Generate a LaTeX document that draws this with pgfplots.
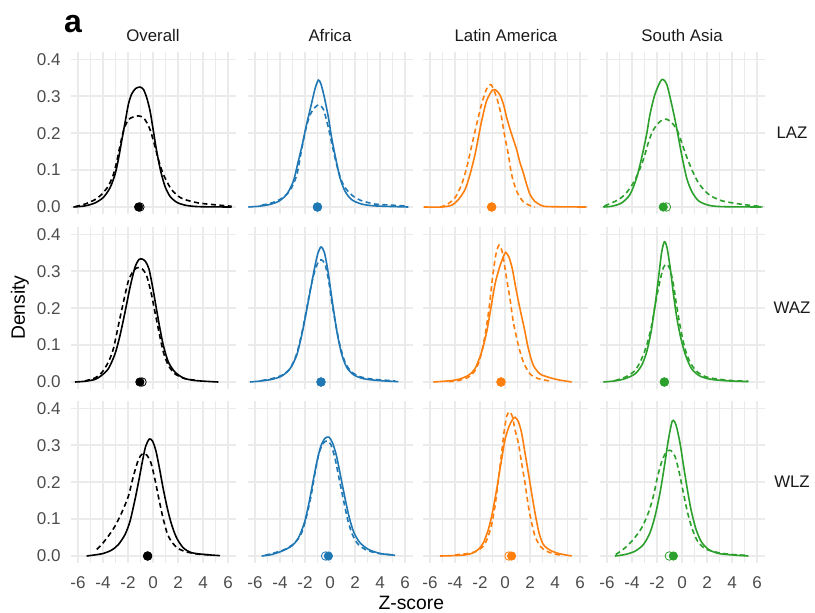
\documentclass[border=0pt]{standalone}
\usepackage{pgfplots}
\pgfplotsset{compat=1.18}
\usepackage{fontspec}
\setmainfont{Liberation Sans}
\definecolor{gridc}{HTML}{EBEBEB}
\definecolor{tickc}{HTML}{4D4D4D}
\definecolor{stripc}{HTML}{1A1A1A}
\definecolor{cOv}{HTML}{000000}
\definecolor{cAf}{HTML}{1F77B4}
\definecolor{cLA}{HTML}{FF7F0E}
\definecolor{cSA}{HTML}{2CA02C}
\pgfplotsset{
  panel/.style={
    scale only axis, width=123.75pt, height=121.8pt,
    xmin=-6.6, xmax=6.6, ymin=-0.02, ymax=0.42,
    xtick={-6,-4,-2,0,2,4,6}, ytick={0,0.1,0.2,0.3,0.4},
    minor xtick={-5,-3,-1,1,3,5},
    grid=both,
    major grid style={gridc, line width=1.2pt},
    minor grid style={gridc, line width=0.6pt},
    axis line style={draw=none},
    major tick length=0pt, minor tick length=0pt,
    xticklabels={}, yticklabels={},
    clip=false,
    anchor=south west,
  },
  ylab/.style={yticklabels={0.0,0.1,0.2,0.3,0.4},
    yticklabel style={font=\fontsize{12.8}{14}\selectfont, text=tickc, inner sep=0pt, anchor=east, xshift=-7.3pt}},
  xlab/.style={xticklabels={-6,-4,-2,0,2,4,6},
    xticklabel style={font=\fontsize{12.8}{14}\selectfont, text=tickc, inner sep=0pt, anchor=north, yshift=-9.8pt}},
  sol/.style={line width=1.2pt, smooth, tension=0.45},
  das/.style={sol, dash pattern=on 3.8pt off 2.6pt},
  opn/.style={only marks, mark=o, mark size=3.2pt, mark options={line width=0.6pt}},
  fil/.style={only marks, mark=*, mark size=3.2pt},
}
\begin{document}
\begin{tikzpicture}
\useasboundingbox (0,0) rectangle (611.25pt,459.75pt);
% ================= Row 1: LAZ =================
\begin{axis}[panel, ylab, at={(52.875pt,298.95pt)}]
\addplot[das, cOv] coordinates {(-6.24,0.001) (-5.44,0.008) (-4.64,0.02) (-4.11,0.034) (-3.57,0.057) (-3.17,0.088) (-2.91,0.122) (-2.69,0.158) (-2.45,0.195) (-2.24,0.219) (-1.92,0.238) (-1.57,0.244) (-1.17,0.247) (-0.77,0.242) (-0.43,0.225) (-0.16,0.202) (0.11,0.17) (0.43,0.129) (0.75,0.095) (1.09,0.07) (1.49,0.047) (2.03,0.029) (2.56,0.02) (3.63,0.011) (4.96,0.006) (6.29,0.002)};
\addplot[sol, cOv] coordinates {(-6.37,0) (-5.44,0.003) (-4.64,0.011) (-3.97,0.026) (-3.44,0.052) (-3.04,0.088) (-2.77,0.129) (-2.51,0.178) (-2.24,0.228) (-1.97,0.278) (-1.71,0.306) (-1.39,0.321) (-1.04,0.325) (-0.77,0.319) (-0.51,0.297) (-0.24,0.261) (0.03,0.206) (0.29,0.152) (0.61,0.098) (0.96,0.056) (1.36,0.029) (1.89,0.013) (2.56,0.005) (3.63,0.001) (6.29,0)};
\addplot[opn, cOv] coordinates {(-1.05,0)};
\addplot[fil, cOv] coordinates {(-1.15,0)};
\end{axis}
\begin{axis}[panel, at={(185.625pt,298.95pt)}]
\addplot[das, cAf] coordinates {(-5.47,0.005) (-4.67,0.011) (-3.87,0.023) (-3.2,0.045) (-2.67,0.085) (-2.3,0.15) (-1.98,0.205) (-1.6,0.25) (-1.2,0.27) (-0.88,0.277) (-0.53,0.265) (-0.13,0.215) (0.19,0.165) (0.53,0.115) (0.93,0.07) (1.33,0.047) (1.87,0.029) (2.53,0.017) (3.6,0.008) (4.93,0.005) (6.0,0.003)};
\addplot[sol, cAf] coordinates {(-6.53,0) (-5.73,0.002) (-4.93,0.006) (-4.13,0.015) (-3.47,0.034) (-2.93,0.07) (-2.53,0.125) (-2.21,0.17) (-1.87,0.224) (-1.52,0.274) (-1.2,0.32) (-0.93,0.344) (-0.72,0.333) (-0.45,0.297) (-0.13,0.243) (0.13,0.188) (0.45,0.133) (0.8,0.079) (1.2,0.043) (1.73,0.02) (2.53,0.008) (3.6,0.003) (6.27,0)};
\addplot[opn, cAf] coordinates {(-1.0,0)};
\addplot[fil, cAf] coordinates {(-1.01,0)};
\end{axis}
\begin{axis}[panel, at={(316.875pt,298.95pt)}]
\addplot[das, cLA] coordinates {(-5.2,0) (-4.67,0.006) (-4.0,0.025) (-3.47,0.061) (-3.07,0.106) (-2.67,0.165) (-2.27,0.224) (-1.87,0.279) (-1.47,0.32) (-1.1,0.331) (-0.67,0.297) (-0.32,0.251) (-0.05,0.197) (0.27,0.142) (0.53,0.088) (0.93,0.043) (1.47,0.014) (2.13,0.002) (2.4,0)};
\addplot[sol, cLA] coordinates {(-6.5,0) (-5.07,0) (-4.27,0.005) (-3.73,0.02) (-3.2,0.047) (-2.8,0.088) (-2.4,0.142) (-2.13,0.188) (-1.87,0.233) (-1.47,0.288) (-1.0,0.317) (-0.67,0.315) (-0.4,0.303) (-0.13,0.279) (0.13,0.243) (0.4,0.211) (0.67,0.183) (0.93,0.156) (1.2,0.12) (1.47,0.092) (1.73,0.061) (2.0,0.034) (2.4,0.015) (2.93,0.004) (3.5,0.001) (6.5,0)};
\addplot[opn, cLA] coordinates {(-1.07,0)};
\addplot[fil, cLA] coordinates {(-1.07,0)};
\end{axis}
\begin{axis}[panel, at={(449.625pt,298.95pt)}]
\addplot[das, cSA] coordinates {(-6.2,0.003) (-5.63,0.011) (-5.09,0.02) (-4.56,0.034) (-4.03,0.058) (-3.63,0.083) (-3.23,0.115) (-2.96,0.143) (-2.69,0.175) (-2.37,0.204) (-2.03,0.222) (-1.63,0.235) (-1.23,0.238) (-0.83,0.229) (-0.43,0.211) (-0.16,0.188) (0.11,0.161) (0.51,0.124) (0.91,0.092) (1.31,0.066) (1.84,0.043) (2.37,0.029) (3.17,0.017) (4.24,0.01) (5.31,0.005) (6.45,0.001)};
\addplot[sol, cSA] coordinates {(-6.3,0) (-5.63,0.002) (-4.83,0.011) (-4.16,0.034) (-3.63,0.079) (-3.23,0.133) (-2.83,0.197) (-2.56,0.251) (-2.16,0.306) (-1.63,0.345) (-1.23,0.333) (-0.83,0.279) (-0.43,0.215) (-0.03,0.142) (0.37,0.079) (0.77,0.043) (1.31,0.017) (2.11,0.005) (3.17,0.001) (6.37,0)};
\addplot[opn, cSA] coordinates {(-1.25,0)};
\addplot[fil, cSA] coordinates {(-1.5,0)};
\end{axis}
% ================= Row 2: WAZ =================
\begin{axis}[panel, ylab, at={(52.875pt,167.7pt)}]
\addplot[das, cOv] coordinates {(-5.44,0.003) (-4.64,0.011) (-4.11,0.025) (-3.57,0.054) (-3.17,0.09) (-2.77,0.153) (-2.37,0.216) (-1.97,0.274) (-1.57,0.301) (-1.23,0.31) (-0.85,0.306) (-0.51,0.288) (-0.16,0.243) (0.16,0.189) (0.48,0.135) (0.83,0.081) (1.23,0.045) (1.76,0.022) (2.56,0.009) (3.63,0.004)};
\addplot[sol, cOv] coordinates {(-6.24,0) (-5.44,0.002) (-4.64,0.007) (-4.11,0.018) (-3.57,0.036) (-3.04,0.076) (-2.64,0.126) (-2.24,0.189) (-1.84,0.256) (-1.44,0.311) (-1.12,0.332) (-0.85,0.333) (-0.59,0.326) (-0.32,0.306) (-0.05,0.261) (0.21,0.211) (0.51,0.153) (0.83,0.099) (1.23,0.054) (1.76,0.027) (2.43,0.011) (3.36,0.004) (5.23,0)};
\addplot[opn, cOv] coordinates {(-0.88,0)};
\addplot[fil, cOv] coordinates {(-1.05,0)};
\end{axis}
\begin{axis}[panel, at={(185.625pt,167.7pt)}]
\addplot[das, cAf] coordinates {(-5.47,0.004) (-4.67,0.009) (-3.87,0.018) (-3.2,0.036) (-2.67,0.076) (-2.27,0.13) (-1.95,0.184) (-1.6,0.247) (-1.25,0.297) (-0.93,0.326) (-0.67,0.331) (-0.4,0.319) (-0.13,0.279) (0.13,0.22) (0.45,0.157) (0.8,0.099) (1.2,0.054) (1.73,0.027) (2.53,0.013) (3.6,0.007) (5.2,0.003)};
\addplot[sol, cAf] coordinates {(-6.4,0) (-5.47,0.003) (-4.67,0.007) (-3.87,0.016) (-3.2,0.036) (-2.67,0.072) (-2.27,0.126) (-1.95,0.18) (-1.6,0.243) (-1.25,0.306) (-0.99,0.346) (-0.72,0.366) (-0.45,0.351) (-0.19,0.306) (0.08,0.243) (0.35,0.18) (0.61,0.126) (0.93,0.076) (1.33,0.04) (1.87,0.02) (2.67,0.009) (3.87,0.004) (5.47,0.001)};
\addplot[opn, cAf] coordinates {(-0.72,0)};
\addplot[fil, cAf] coordinates {(-0.72,0)};
\end{axis}
\begin{axis}[panel, at={(316.875pt,167.7pt)}]
\addplot[das, cLA] coordinates {(-4.5,0.001) (-3.73,0.004) (-2.93,0.013) (-2.4,0.031) (-2.0,0.063) (-1.6,0.126) (-1.28,0.198) (-1.01,0.279) (-0.75,0.342) (-0.48,0.371) (-0.21,0.351) (0.05,0.297) (0.4,0.225) (0.67,0.162) (1.07,0.099) (1.47,0.054) (2.0,0.022) (2.67,0.009) (3.73,0.002)};
\addplot[sol, cLA] coordinates {(-5.73,0) (-4.53,0.003) (-3.73,0.007) (-2.93,0.018) (-2.4,0.036) (-1.87,0.081) (-1.47,0.135) (-1.12,0.202) (-0.8,0.265) (-0.48,0.306) (-0.21,0.333) (0.05,0.351) (0.32,0.338) (0.59,0.306) (0.88,0.252) (1.2,0.198) (1.55,0.144) (1.87,0.09) (2.27,0.045) (2.8,0.022) (3.47,0.013) (4.27,0.006) (5.33,0)};
\addplot[opn, cLA] coordinates {(-0.32,0)};
\addplot[fil, cLA] coordinates {(-0.32,0)};
\end{axis}
\begin{axis}[panel, at={(449.625pt,167.7pt)}]
\addplot[das, cSA] coordinates {(-5.36,0.004) (-4.56,0.013) (-3.76,0.031) (-3.23,0.063) (-2.83,0.099) (-2.43,0.153) (-2.11,0.216) (-1.76,0.274) (-1.49,0.31) (-1.23,0.319) (-0.96,0.306) (-0.69,0.265) (-0.43,0.207) (-0.11,0.144) (0.24,0.09) (0.64,0.054) (1.17,0.029) (1.84,0.015) (2.64,0.009) (3.97,0.004) (5.31,0.002)};
\addplot[sol, cSA] coordinates {(-6.29,0) (-5.36,0.003) (-4.56,0.009) (-3.76,0.022) (-3.23,0.045) (-2.83,0.081) (-2.48,0.135) (-2.16,0.207) (-1.89,0.279) (-1.63,0.351) (-1.41,0.38) (-1.2,0.364) (-0.93,0.306) (-0.67,0.234) (-0.4,0.171) (-0.08,0.117) (0.29,0.072) (0.77,0.036) (1.44,0.016) (2.37,0.007) (3.71,0.003) (5.31,0.001)};
\addplot[opn, cSA] coordinates {(-1.41,0)};
\addplot[fil, cSA] coordinates {(-1.41,0)};
\end{axis}
% ================= Row 3: WLZ =================
\begin{axis}[panel, ylab, xlab, at={(52.875pt,37.2pt)}]
\addplot[das, cOv] coordinates {(-4.5,0.018) (-4.11,0.031) (-3.57,0.054) (-3.04,0.081) (-2.51,0.117) (-1.97,0.162) (-1.57,0.216) (-1.17,0.261) (-0.85,0.277) (-0.51,0.274) (-0.16,0.252) (0.16,0.207) (0.48,0.153) (0.83,0.099) (1.17,0.058) (1.55,0.036) (2.03,0.02) (2.69,0.011) (3.63,0.005) (4.69,0.003)};
\addplot[sol, cOv] coordinates {(-5.31,0) (-4.64,0.003) (-3.97,0.007) (-3.31,0.016) (-2.77,0.031) (-2.24,0.058) (-1.84,0.094) (-1.44,0.153) (-1.12,0.207) (-0.85,0.256) (-0.59,0.297) (-0.29,0.317) (-0.03,0.311) (0.24,0.284) (0.51,0.239) (0.83,0.18) (1.17,0.126) (1.49,0.085) (1.89,0.049) (2.43,0.022) (3.09,0.009) (4.16,0.004) (5.36,0.001)};
\addplot[opn, cOv] coordinates {(-0.43,0)};
\addplot[fil, cOv] coordinates {(-0.43,0)};
\end{axis}
\begin{axis}[panel, xlab, at={(185.625pt,37.2pt)}]
\addplot[das, cAf] coordinates {(-5.2,0.002) (-4.4,0.009) (-3.6,0.018) (-2.8,0.036) (-2.27,0.063) (-1.87,0.108) (-1.52,0.162) (-1.2,0.225) (-0.88,0.279) (-0.53,0.306) (-0.21,0.312) (0.08,0.301) (0.4,0.265) (0.72,0.211) (1.07,0.153) (1.41,0.099) (1.79,0.058) (2.27,0.031) (2.93,0.016) (3.87,0.007) (5.07,0.003)};
\addplot[sol, cAf] coordinates {(-5.47,0) (-4.67,0.004) (-3.87,0.013) (-3.07,0.027) (-2.53,0.049) (-2.05,0.09) (-1.68,0.144) (-1.33,0.207) (-1.01,0.261) (-0.72,0.299) (-0.4,0.319) (-0.08,0.322) (0.21,0.306) (0.53,0.27) (0.85,0.216) (1.2,0.157) (1.55,0.103) (1.92,0.063) (2.4,0.036) (3.07,0.018) (4.0,0.007) (5.2,0.002)};
\addplot[opn, cAf] coordinates {(-0.35,0)};
\addplot[fil, cAf] coordinates {(-0.13,0)};
\end{axis}
\begin{axis}[panel, xlab, at={(316.875pt,37.2pt)}]
\addplot[das, cLA] coordinates {(-4.0,0.003) (-2.93,0.007) (-2.27,0.013) (-1.73,0.027) (-1.39,0.049) (-1.07,0.085) (-0.8,0.135) (-0.59,0.189) (-0.4,0.243) (-0.21,0.297) (-0.05,0.342) (0.13,0.378) (0.35,0.391) (0.59,0.378) (0.8,0.342) (1.07,0.306) (1.33,0.252) (1.6,0.198) (1.87,0.135) (2.13,0.09) (2.4,0.054) (2.8,0.027) (3.33,0.013) (4.0,0.005) (4.6,0.002)};
\addplot[sol, cLA] coordinates {(-5.2,0) (-3.47,0.002) (-2.67,0.007) (-2.13,0.018) (-1.73,0.036) (-1.33,0.072) (-1.01,0.117) (-0.67,0.18) (-0.32,0.252) (0.0,0.315) (0.32,0.351) (0.59,0.369) (0.8,0.376) (1.07,0.364) (1.33,0.333) (1.6,0.279) (1.87,0.225) (2.13,0.171) (2.4,0.117) (2.72,0.063) (3.07,0.031) (3.6,0.016) (4.27,0.007) (5.33,0)};
\addplot[opn, cLA] coordinates {(0.32,0)};
\addplot[fil, cLA] coordinates {(0.53,0)};
\end{axis}
\begin{axis}[panel, xlab, at={(449.625pt,37.2pt)}]
\addplot[das, cSA] coordinates {(-5.3,0.004) (-4.56,0.022) (-3.89,0.045) (-3.23,0.076) (-2.69,0.117) (-2.29,0.162) (-1.95,0.216) (-1.57,0.261) (-1.23,0.283) (-0.91,0.286) (-0.56,0.27) (-0.24,0.229) (0.11,0.171) (0.45,0.117) (0.83,0.072) (1.25,0.04) (1.84,0.02) (2.64,0.011) (3.71,0.005) (5.04,0.002)};
\addplot[sol, cSA] coordinates {(-5.36,0) (-4.56,0.004) (-3.76,0.013) (-3.09,0.031) (-2.56,0.063) (-2.16,0.108) (-1.76,0.171) (-1.41,0.243) (-1.09,0.315) (-0.77,0.366) (-0.48,0.355) (-0.16,0.306) (0.13,0.243) (0.43,0.18) (0.72,0.126) (1.09,0.076) (1.52,0.04) (2.11,0.018) (2.91,0.007) (3.97,0.003) (5.31,0)};
\addplot[opn, cSA] coordinates {(-1.01,0)};
\addplot[fil, cSA] coordinates {(-0.69,0)};
\end{axis}
% ================= Text =================
\begin{scope}[every node/.style={font=\fontsize{12.6}{14}\selectfont, text=stripc, inner sep=0pt}]
\node at (114.75pt,433.1pt) {Overall};
\node at (247.5pt,433.1pt) {Africa};
\node at (379.5pt,433.1pt) {Latin America};
\node at (511.5pt,433.1pt) {South Asia};
\node at (594pt,360pt) {LAZ};
\node at (594pt,228.6pt) {WAZ};
\node at (594pt,98.1pt) {WLZ};
\end{scope}
\node[font=\fontsize{14.5}{16}\selectfont, inner sep=0pt, rotate=90] at (15pt,229pt) {Density};
\node[font=\fontsize{14.5}{16}\selectfont, inner sep=0pt] at (308.5pt,7.3pt) {Z-score};
\node[font=\fontsize{24}{26}\selectfont\bfseries, inner sep=0pt] at (54.75pt,441.5pt) {a};
\end{tikzpicture}
\end{document}
